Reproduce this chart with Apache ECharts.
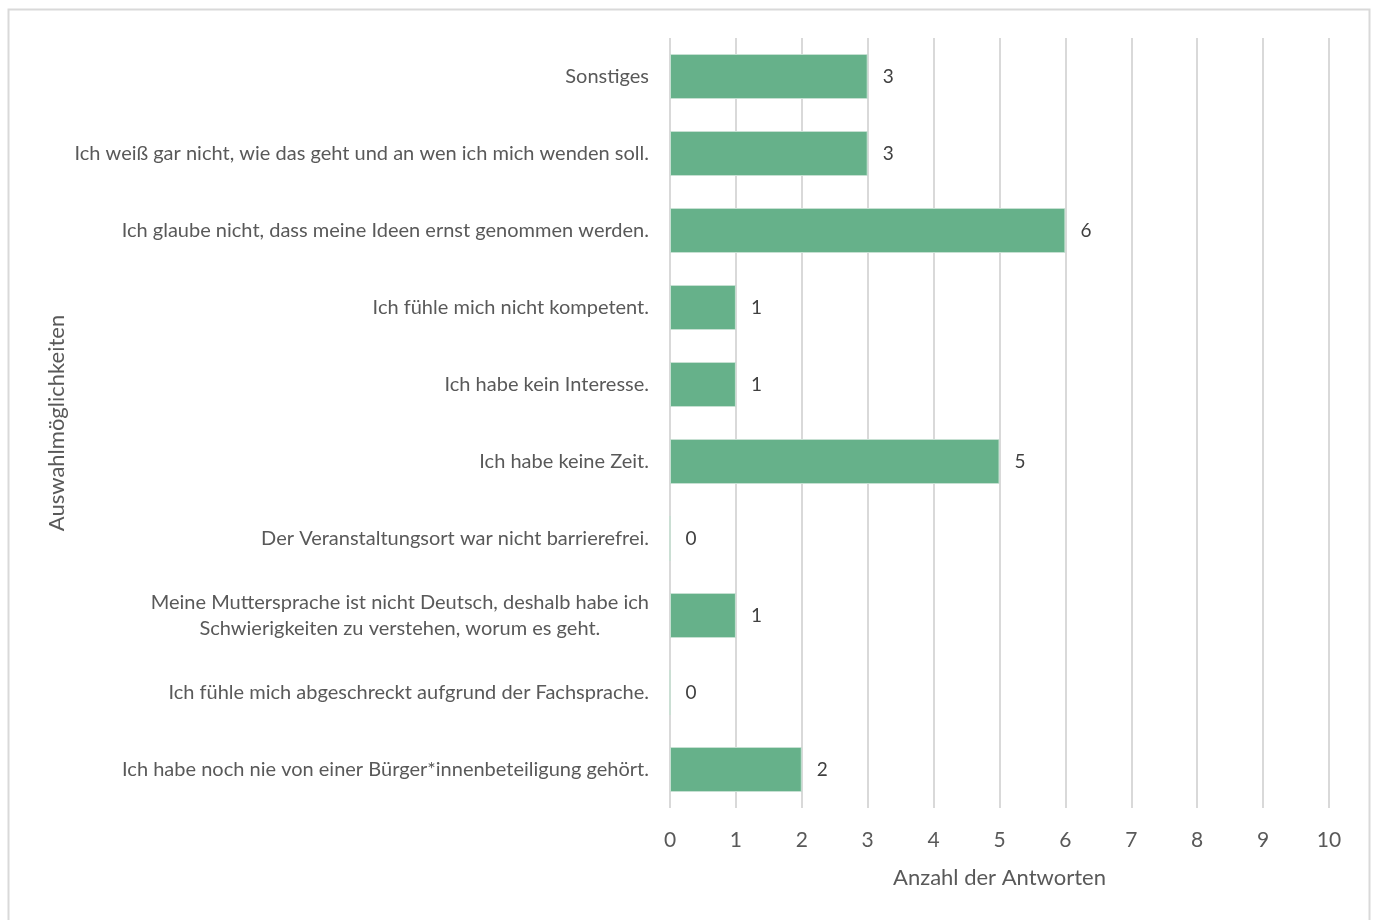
<!DOCTYPE html>
<html>
<head>
<meta charset="utf-8">
<script src="https://cdn.jsdelivr.net/npm/echarts@6/dist/echarts.min.js"></script>
<style>
  html, body { margin: 0; padding: 0; background: #fff; }
  #chart { width: 1376px; height: 920px; }
</style>
</head>
<body>
<div id="chart"></div>
<script>
// Answer options, bottom to top as drawn on the category axis
const categories = [
  'Ich habe noch nie von einer Bürger*innenbeteiligung gehört.',
  'Ich fühle mich abgeschreckt aufgrund der Fachsprache.',
  'Meine Muttersprache ist nicht Deutsch, deshalb habe ich\nSchwierigkeiten zu verstehen, worum es geht.',
  'Der Veranstaltungsort war nicht barrierefrei.',
  'Ich habe keine Zeit.',
  'Ich habe kein Interesse.',
  'Ich fühle mich nicht kompetent.',
  'Ich glaube nicht, dass meine Ideen ernst genommen werden.',
  'Ich weiß gar nicht, wie das geht und an wen ich mich wenden soll.',
  'Sonstiges'
];
// Number of answers per option
const counts = [2, 0, 1, 0, 5, 1, 1, 6, 3, 3];
const xTicks = [0, 1, 2, 3, 4, 5, 6, 7, 8, 9, 10];

const FONT = 'Lato, "Open Sans", sans-serif';
const chart = echarts.init(document.getElementById('chart'));
chart.setOption({
  animation: false,
  backgroundColor: '#ffffff',
  graphic: [{
    type: 'rect',
    shape: { x: 8.5, y: 9.5, width: 1361, height: 930 },
    style: { fill: 'none', stroke: '#d9d9d9', lineWidth: 2 },
    silent: true
  }],
  grid: { left: 670, right: 47, top: 38, bottom: 112, containLabel: false },
  xAxis: {
    type: 'value',
    min: xTicks[0],
    max: xTicks[xTicks.length - 1],
    interval: 1,
    name: 'Anzahl der Antworten',
    nameLocation: 'middle',
    nameGap: 59,
    nameTextStyle: { color: '#595959', fontSize: 22, fontFamily: FONT },
    axisLine: { show: false },
    axisTick: { show: false },
    axisLabel: { color: '#595959', fontSize: 21, fontFamily: FONT, margin: 22 },
    splitLine: { show: true, lineStyle: { color: '#d9d9d9', width: 2 } }
  },
  yAxis: {
    type: 'category',
    data: categories,
    name: 'Auswahlmöglichkeiten',
    nameLocation: 'middle',
    nameGap: 602,
    nameRotate: 90,
    nameTextStyle: { color: '#595959', fontSize: 22, fontFamily: FONT },
    axisLine: { show: false },
    axisTick: { show: false },
    axisLabel: {
      color: '#595959', fontSize: 20, fontFamily: FONT, margin: 21,
      lineHeight: 26, align: 'right',
      // wrapped labels keep their lines centred on each other
      formatter: (v) => v.indexOf('\n') < 0 ? v
        : v.split('\n').map((s) => '{c|' + s + '}').join('\n'),
      rich: {
        c: { align: 'center', color: '#595959', fontSize: 20, fontFamily: FONT, lineHeight: 26 }
      }
    },
    splitLine: { show: false }
  },
  series: [{
    type: 'bar',
    data: counts,
    barWidth: 45,
    itemStyle: { color: '#66b18a', borderColor: '#c6e0d2', borderWidth: 1 },
    label: {
      show: true, position: 'right', distance: 15,
      color: '#404040', fontSize: 19, fontFamily: FONT
    }
  }]
});
</script>
</body>
</html>
